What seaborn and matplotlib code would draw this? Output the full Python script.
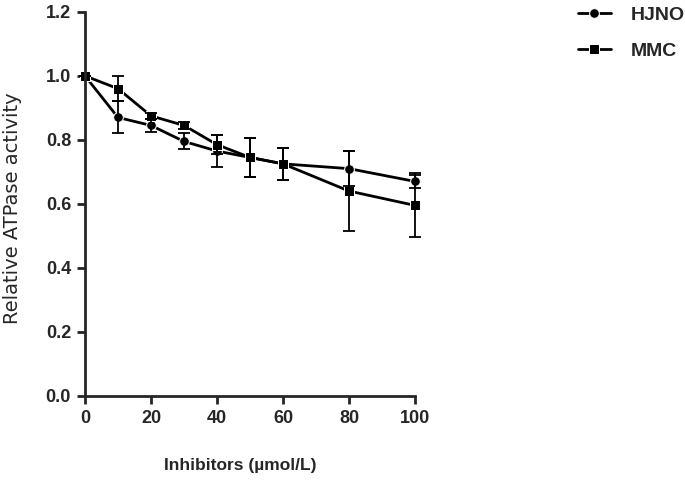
import pandas as pd
import matplotlib
matplotlib.use("Agg")
import matplotlib.pyplot as plt
import seaborn as sns

# Données
concentrations = [0, 10, 20, 30, 40, 50, 60, 80, 100]
hjno_mean = [1.0, 0.87, 0.845, 0.795, 0.765, 0.745, 0.725, 0.71, 0.67]
hjno_err = [0.0, 0.05, 0.02, 0.025, 0.05, 0.06, 0.05, 0.055, 0.02]
mmc_mean = [1.0, 0.96, 0.875, 0.845, 0.785, 0.745, 0.725, 0.64, 0.595]
mmc_err = [0.0, 0.04, 0.01, 0.01, 0.03, 0.06, 0.05, 0.125, 0.10]
series_names = ["HJNO", "MMC"]

sns.set_style("ticks")
plt.rcParams['font.family'] = ['Liberation Sans', 'DejaVu Sans']
plt.rcParams['font.weight'] = 'bold'

df = pd.concat([
    pd.DataFrame({"x": concentrations, "y": hjno_mean, "group": series_names[0]}),
    pd.DataFrame({"x": concentrations, "y": mmc_mean, "group": series_names[1]}),
])

fig = plt.figure(figsize=(6.85, 4.93), dpi=100)
ax = fig.add_axes([0.124, 0.197, 0.482, 0.779])

sns.lineplot(data=df, x="x", y="y", hue="group", style="group",
             markers={"HJNO": "o", "MMC": "s"}, dashes=False,
             palette={"HJNO": "black", "MMC": "black"},
             markersize=7, linewidth=2, ax=ax, legend=True)
for line in ax.lines:
    line.set_clip_on(False)

# Barres d'erreur
for mean, err in [(hjno_mean, hjno_err), (mmc_mean, mmc_err)]:
    eb = ax.errorbar(concentrations, mean, yerr=err, fmt="none", ecolor="black",
                     elinewidth=1.3, capsize=4, capthick=1.3)
    for art in eb.lines[1] + eb.lines[2]:
        art.set_clip_on(False)

ax.set_xlim(0, 100)
ax.set_ylim(0, 1.2)
ax.set_xticks([0, 20, 40, 60, 80, 100])
ax.set_yticks([0.0, 0.2, 0.4, 0.6, 0.8, 1.0, 1.2])
ax.set_yticklabels([f"{v:.1f}" for v in ax.get_yticks()])
for lab in ax.get_xticklabels() + ax.get_yticklabels():
    lab.set_fontweight("bold")
    lab.set_fontsize(13)

sns.despine(ax=ax)
for s in ["left", "bottom"]:
    ax.spines[s].set_linewidth(2)
    ax.spines[s].set_clip_on(False)
ax.tick_params(width=2, length=6, direction="out", pad=4)

ax.set_xlabel("Inhibitors (µmol/L)", fontsize=12.5, fontweight="bold")
ax.xaxis.set_label_coords(0.47, -0.163)
ax.set_ylabel("Relative ATPase activity", fontsize=14, fontweight="normal",
              family=["DejaVu Sans"])
ax.yaxis.set_label_coords(-0.192, 0.49)

leg = ax.legend(loc="upper left", bbox_to_anchor=(1.44, 1.06), frameon=False,
                fontsize=14, handlelength=1.7, labelspacing=0.95, handletextpad=1.0)
for t in leg.get_texts():
    t.set_fontweight("bold")

plt.savefig("out.png", dpi=100)
